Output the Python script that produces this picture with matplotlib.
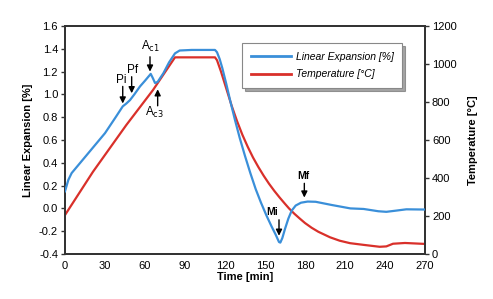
import matplotlib
matplotlib.use("Agg")
import matplotlib.pyplot as plt

plt.rcParams['font.family'] = ['Liberation Sans', 'DejaVu Sans']

# Linear expansion (blue) - time [min], expansion [%]
exp_time = [0, 1, 2.5, 5, 10, 20, 30, 38, 43.3, 46, 48.75, 52, 56.25, 60, 64.3, 66, 67.5, 69.5,
            73.75, 78, 82.5, 86, 95, 110, 112.5, 114, 116, 118, 121, 124, 127.5, 131, 135, 139,
            143, 147, 151, 155, 158, 160.5, 161.5, 163, 165, 167.5, 170, 173, 177, 182, 188,
            200, 214, 224, 235, 241, 248, 256, 270]
exp_val = [0.15, 0.19, 0.25, 0.31, 0.38, 0.52, 0.66, 0.80, 0.895, 0.92, 0.95, 1.0, 1.07, 1.12, 1.18, 1.14, 1.10, 1.11,
           1.185, 1.28, 1.36, 1.385, 1.39, 1.39, 1.39, 1.37, 1.31, 1.23, 1.09, 0.94, 0.775, 0.62, 0.46, 0.31,
           0.17, 0.05, -0.06, -0.16, -0.23, -0.295, -0.30, -0.26, -0.18, -0.09, -0.02, 0.025, 0.05, 0.06, 0.058,
           0.03, 0.0, -0.005, -0.025, -0.03, -0.02, -0.008, -0.01]

# Temperature (red) - time [min], temperature [°C]
temp_time = [0, 21, 46, 66, 82.5, 112.5, 114, 117, 121, 125, 129, 133, 137, 141, 145, 149, 153,
             157, 161, 165, 168, 172, 176, 180, 185, 190, 198.75, 206, 213.75, 224, 236, 241,
             246, 255, 270]
temp_val = [205, 433, 679, 863, 1035, 1035, 1020, 960, 870, 780, 700, 628, 565, 508, 458, 412, 370,
            332, 297, 264, 240, 212, 187, 163, 138, 117, 88, 70, 57, 48, 38, 40,
            54, 58, 53]

x_ticks = [0, 30, 60, 90, 120, 150, 180, 210, 240, 270]
left_ticks = [-0.4, -0.2, 0.0, 0.2, 0.4, 0.6, 0.8, 1.0, 1.2, 1.4, 1.6]
right_ticks = [0, 200, 400, 600, 800, 1000, 1200]

blue = '#3a8fd9'
red = '#d9302a'

fig = plt.figure(figsize=(4.93, 2.99), dpi=100)
ax = fig.add_axes([65/493, 1-254/299, 360/493, 228/299])
ax2 = ax.twinx()

l1, = ax.plot(exp_time, exp_val, color=blue, lw=1.6, label='Linear Expansion [%]', zorder=3)
l2, = ax2.plot(temp_time, temp_val, color=red, lw=1.6, label='Temperature [°C]', zorder=2)

ax.set_zorder(ax2.get_zorder() + 1)
ax.patch.set_visible(False)

ax.set_xlim(0, 270)
ax.set_ylim(-0.4, 1.6)
ax2.set_ylim(0, 1200)
ax.set_xticks(x_ticks)
ax.set_yticks(left_ticks)
ax.set_yticklabels([f'{v:.1f}' for v in left_ticks])
ax2.set_yticks(right_ticks)

for a in (ax, ax2):
    for s in a.spines.values():
        s.set_color('#333333')
        s.set_linewidth(1.3)
ax.tick_params(axis='y', direction='out', length=3, width=1, labelsize=8, color='#333333', pad=2)
ax.tick_params(axis='x', length=0, labelsize=8, pad=5)
ax2.tick_params(axis='y', direction='out', length=3, width=1, labelsize=8, color='#333333', pad=2)

ax.set_xlabel('Time [min]', fontsize=8, fontweight='bold', labelpad=1)
ax.set_ylabel('Linear Expansion [%]', fontsize=8, fontweight='bold', labelpad=4)
ax2.set_ylabel('Temperature [°C]', fontsize=8, fontweight='bold', labelpad=8)

aprops = dict(arrowstyle='-|>', color='black', lw=1.0, mutation_scale=9, shrinkA=0, shrinkB=0)

def arrow(x, y0, y1):
    ax.annotate('', xy=(x, y1), xytext=(x, y0), arrowprops=aprops, zorder=5)

arrow(43.3, 1.07, 0.92)
ax.text(42, 1.13, 'Pi', fontsize=8.5, ha='center', va='center')
arrow(50, 1.155, 1.01)
ax.text(50.75, 1.215, 'Pf', fontsize=8.5, ha='center', va='center')
arrow(63.75, 1.33, 1.20)
ax.text(64, 1.42, r'A$_{\mathrm{c1}}$', fontsize=8.5, ha='center', va='center')
arrow(69.5, 0.90, 1.045)
ax.text(67, 0.84, r'A$_{\mathrm{c3}}$', fontsize=8.5, ha='center', va='center')
arrow(160.5, -0.10, -0.24)
ax.text(155, -0.03, 'Mi', fontsize=7.5, fontweight='bold', ha='center', va='center')
arrow(179.5, 0.22, 0.095)
ax.text(179, 0.28, 'Mf', fontsize=7.5, fontweight='bold', ha='center', va='center')

leg = ax.legend(handles=[l1, l2], loc='upper right', bbox_to_anchor=(0.95, 0.947),
                prop={'style': 'italic', 'size': 7.5}, frameon=True, fancybox=False,
                shadow=True, handlelength=3.9, handletextpad=0.4, borderpad=0.8,
                labelspacing=0.75, edgecolor='#888888')
leg.get_frame().set_linewidth(0.8)
for ln in leg.get_lines():
    ln.set_linewidth(2)

fig.savefig('out.png', dpi=100)
